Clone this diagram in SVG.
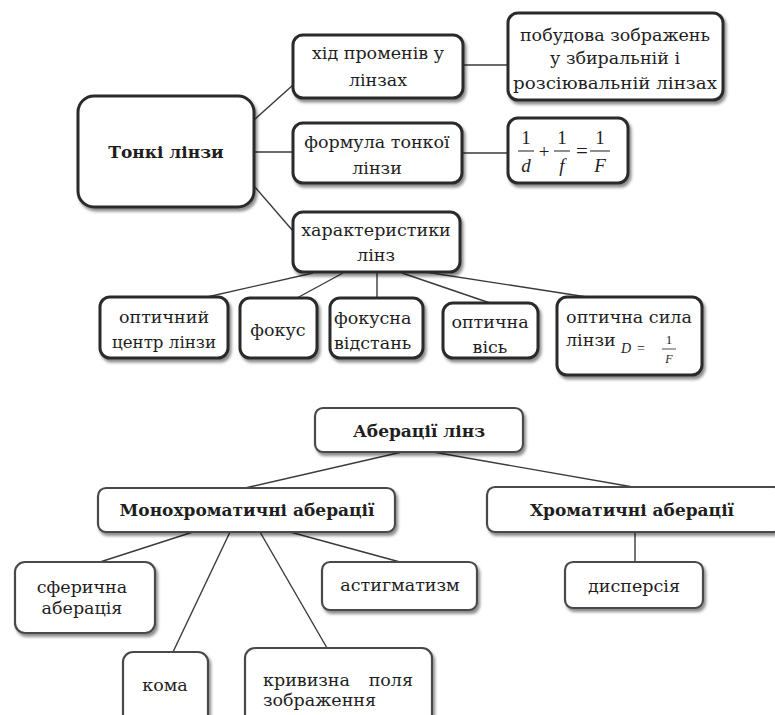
<svg xmlns="http://www.w3.org/2000/svg" width="775" height="715" viewBox="0 0 775 715">
<defs>
<filter id="sh" x="-10%" y="-10%" width="125%" height="130%">
<feGaussianBlur in="SourceAlpha" stdDeviation="1.8"/>
<feOffset dx="2" dy="3" result="b"/>
<feFlood flood-color="#000" flood-opacity="0.45"/>
<feComposite in2="b" operator="in"/>
<feMerge><feMergeNode/><feMergeNode in="SourceGraphic"/></feMerge>
</filter>
<style>
.b1{fill:#fff;stroke:#2b2b2b;stroke-width:3;filter:url(#sh)}
.b2{fill:#fff;stroke:#4a4a4a;stroke-width:2.2;filter:url(#sh)}
.t{font-family:"DejaVu Serif","Liberation Serif",serif;font-size:17.5px;fill:#1e1e1e;text-anchor:middle}
.tb{font-family:"DejaVu Serif","Liberation Serif",serif;font-size:17px;font-weight:bold;fill:#1e1e1e;text-anchor:middle}
.l{font-family:"DejaVu Serif","Liberation Serif",serif;font-size:17.5px;fill:#1e1e1e}
.m{font-family:"Liberation Serif",serif;fill:#1e1e1e;text-anchor:middle}
.c{stroke:#3a3a3a;stroke-width:1.4;fill:none}
</style>
</defs>
<rect width="775" height="715" fill="#fff"/>
<g id="connectors">
<line class="c" x1="254" y1="120" x2="293" y2="85"/>
<line class="c" x1="254" y1="152" x2="293" y2="152"/>
<line class="c" x1="254" y1="186" x2="293" y2="231"/>
<line class="c" x1="463" y1="65" x2="508" y2="65"/>
<line class="c" x1="462" y1="153" x2="508" y2="153"/>
<line class="c" x1="313" y1="273" x2="207" y2="297"/>
<line class="c" x1="343" y1="273" x2="297" y2="298"/>
<line class="c" x1="377" y1="273" x2="377" y2="298"/>
<line class="c" x1="402" y1="273" x2="490" y2="303"/>
<line class="c" x1="425" y1="272" x2="587" y2="297"/>
<line class="c" x1="402" y1="452" x2="245" y2="488"/>
<line class="c" x1="433" y1="452" x2="633" y2="487"/>
<line class="c" x1="635" y1="532" x2="635" y2="562"/>
<line class="c" x1="193" y1="532" x2="100" y2="562"/>
<line class="c" x1="230" y1="532" x2="173" y2="652"/>
<line class="c" x1="260" y1="532" x2="327" y2="648"/>
<line class="c" x1="290" y1="532" x2="400" y2="562"/>
</g>
<g id="thin-lenses">
<rect class="b1" x="78" y="96" width="176" height="111" rx="16"/>
<text class="tb" x="166" y="158">Тонкі лінзи</text>
</g>
<g id="ray-path">
<rect class="b1" x="293" y="35" width="170" height="63" rx="10"/>
<text class="t" x="378" y="59">хід променів у</text>
<text class="t" x="378" y="86">лінзах</text>
</g>
<g id="image-construction">
<rect class="b1" x="508" y="13" width="215" height="87" rx="10"/>
<text class="t" x="615" y="41">побудова зображень</text>
<text class="t" x="615" y="64">у збиральній і</text>
<text class="t" x="615" y="89" textLength="204" lengthAdjust="spacingAndGlyphs">розсіювальній лінзах</text>
</g>
<g id="lens-formula">
<rect class="b1" x="293" y="123" width="169" height="60" rx="10"/>
<text class="t" x="377" y="148">формула тонкої</text>
<text class="t" x="377" y="174">лінзи</text>
</g>
<g id="formula">
<rect class="b1" x="508" y="118" width="120" height="65" rx="10"/>
<text class="m" x="526" y="144" font-size="19">1</text>
<line x1="518" y1="151" x2="534" y2="151" stroke="#1e1e1e" stroke-width="1"/>
<text class="m" x="526" y="172" font-size="19" font-style="italic">d</text>
<text class="m" x="544" y="158" font-size="19">+</text>
<text class="m" x="562" y="144" font-size="19">1</text>
<line x1="554" y1="151" x2="570" y2="151" stroke="#1e1e1e" stroke-width="1"/>
<text class="m" x="562" y="172" font-size="19" font-style="italic">f</text>
<text class="m" x="582" y="158" font-size="21">=</text>
<text class="m" x="600" y="144" font-size="19">1</text>
<line x1="590" y1="151" x2="610" y2="151" stroke="#1e1e1e" stroke-width="1"/>
<text class="m" x="600" y="172" font-size="19" font-style="italic">F</text>
</g>
<g id="characteristics">
<rect class="b1" x="293" y="212" width="167" height="60" rx="10"/>
<text class="t" x="376" y="236">характеристики</text>
<text class="t" x="376" y="261">лінз</text>
</g>
<g id="optical-center">
<rect class="b1" x="100" y="297" width="128" height="61" rx="10"/>
<text class="t" x="164" y="323">оптичний</text>
<text class="t" x="164" y="348" textLength="104" lengthAdjust="spacingAndGlyphs">центр лінзи</text>
</g>
<g id="focus">
<rect class="b1" x="240" y="298" width="77" height="60" rx="10"/>
<text class="t" x="278" y="336">фокус</text>
</g>
<g id="focal-length">
<rect class="b1" x="330" y="298" width="93" height="60" rx="10"/>
<text class="l" x="334" y="324">фокусна</text>
<text class="l" x="334" y="349">відстань</text>
</g>
<g id="optical-axis">
<rect class="b1" x="443" y="303" width="95" height="55" rx="10"/>
<text class="t" x="490" y="328">оптична</text>
<text class="t" x="490" y="353">вісь</text>
</g>
<g id="optical-power">
<rect class="b1" x="557" y="297" width="145" height="78" rx="10"/>
<text class="t" x="629" y="323">оптична сила</text>
<text class="l" x="566" y="346" font-size="15">лінзи</text>
<text class="m" x="626" y="353" font-size="14" font-style="italic">D</text>
<text class="m" x="641" y="353" font-size="14">=</text>
<text class="m" x="669" y="344" font-size="13">1</text>
<line x1="662" y1="349" x2="676" y2="349" stroke="#1e1e1e" stroke-width="0.8"/>
<text class="m" x="669" y="363" font-size="12" font-style="italic">F</text>
</g>
<g id="aberrations">
<rect class="b2" x="315" y="408" width="208" height="44" rx="8"/>
<text class="tb" x="419" y="437">Аберації лінз</text>
</g>
<g id="mono">
<rect class="b2" x="98" y="488" width="297" height="44" rx="8"/>
<text class="tb" x="247" y="516">Монохроматичні аберації</text>
</g>
<g id="chromatic">
<rect class="b2" x="487" y="487" width="295" height="45" rx="8"/>
<text class="tb" x="632" y="516">Хроматичні аберації</text>
</g>
<g id="dispersion">
<rect class="b2" x="565" y="562" width="138" height="46" rx="8"/>
<text class="t" x="634" y="592">дисперсія</text>
</g>
<g id="spherical">
<rect class="b2" x="15" y="562" width="140" height="71" rx="10"/>
<text class="t" x="82" y="593">сферична</text>
<text class="t" x="82" y="614">аберація</text>
</g>
<g id="astigmatism">
<rect class="b2" x="322" y="562" width="155" height="48" rx="8"/>
<text class="t" x="400" y="591">астигматизм</text>
</g>
<g id="coma">
<rect class="b2" x="123" y="652" width="85" height="75" rx="10"/>
<text class="t" x="165" y="691">кома</text>
</g>
<g id="field-curvature">
<rect class="b2" x="245" y="648" width="187" height="80" rx="10"/>
<text class="l" x="263" y="686">кривизна</text>
<text class="l" x="413" y="686" text-anchor="end">поля</text>
<text class="l" x="263" y="706">зображення</text>
</g>
</svg>
